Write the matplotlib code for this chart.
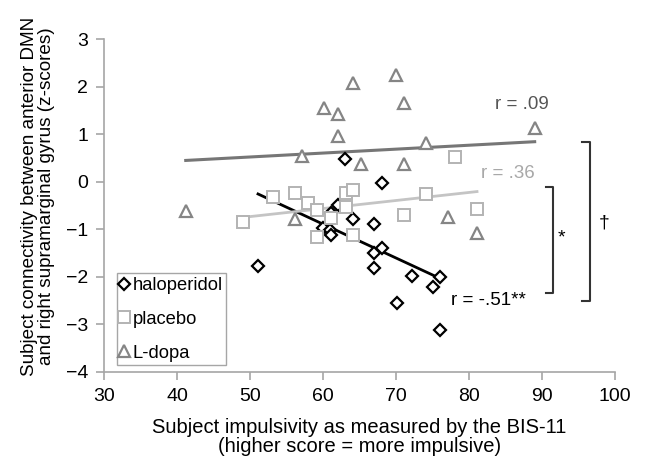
import numpy as np
import matplotlib
matplotlib.use("Agg")
import matplotlib.pyplot as plt

plt.rcParams["font.family"] = ["Liberation Sans", "DejaVu Sans"]
plt.rcParams["font.size"] = 14

# BIS-11 score (x) vs connectivity z-score (y)
halo_x = [51.1, 61.1, 60.0, 61.0, 61.1, 64.1, 67.0, 67.0, 68.1, 67.0, 70.1, 68.1, 62.1, 63.0, 72.2, 76.0, 75.1, 76.0]
halo_y = [-1.78, -0.66, -0.96, -1.02, -1.12, -0.79, -0.89, -1.50, -1.39, -1.82, -2.54, -0.03, -0.49, 0.48, -1.99, -2.01, -2.22, -3.11]
plac_x = [49.0, 53.2, 56.2, 57.9, 59.2, 59.2, 61.1, 63.2, 64.1, 63.2, 64.1, 78.1, 74.1, 71.1, 81.1]
plac_y = [-0.85, -0.32, -0.24, -0.45, -0.60, -1.17, -0.77, -0.24, -0.18, -0.53, -1.12, 0.52, -0.26, -0.70, -0.58]
ldopa_x = [41.2, 64.1, 70.0, 60.1, 62.1, 62.1, 57.1, 65.2, 71.1, 89.0, 74.1, 71.1, 77.1, 81.1, 56.2]
ldopa_y = [-0.62, 2.08, 2.25, 1.55, 1.43, 0.96, 0.54, 0.37, 1.66, 1.13, 0.82, 0.37, -0.74, -1.08, -0.79]

C_H = "#000000"; C_P = "#b3b3b3"; C_PL = "#c4c4c4"; C_L = "#858585"; C_LL = "#767676"

fig = plt.figure(figsize=(6.47, 4.58), dpi=100)
ax = fig.add_axes([0.1607, 0.1878, 0.7898, 0.7264])


def trend(x, y, color, lw):
    k, b = np.polyfit(x, y, 1)
    xs = np.array([min(x), max(x)])
    ax.plot(xs, k * xs + b, color=color, lw=lw, zorder=2)


ax.plot(halo_x, halo_y, "D", ms=6.0, mfc="white", mec=C_H, mew=1.6, ls="none",
        label="haloperidol", zorder=3)
ax.plot(plac_x, plac_y, "s", ms=8.0, mfc="white", mec=C_P, mew=1.4, ls="none",
        label="placebo", zorder=3)
ax.plot(ldopa_x, ldopa_y, "^", ms=9.0, mfc="white", mec=C_L, mew=1.6, ls="none",
        label="L-dopa", zorder=3)
trend(halo_x, halo_y, C_H, 2.0)
trend(plac_x, plac_y, C_PL, 2.0)
trend(ldopa_x, ldopa_y, C_LL, 2.2)

ax.set_xlim(30, 100)
ax.set_ylim(-4, 3)
ax.set_xticks(range(30, 101, 10))
ax.set_yticks(range(-4, 4))
for s in ("top", "right"):
    ax.spines[s].set_visible(False)
for s in ("left", "bottom"):
    ax.spines[s].set_color("#a6a6a6")
    ax.spines[s].set_linewidth(1.2)
ax.tick_params(direction="out", length=6, width=1.2, color="#a6a6a6", labelsize=14, pad=5.5)

ax.set_xlabel("Subject impulsivity as measured by the BIS-11\n(higher score = more impulsive)",
              fontsize=14.5, linespacing=1.0)
ax.xaxis.set_label_coords(0.5, -0.137)
ax.set_ylabel("Subject connectivity between anterior DMN\nand right supramarginal gyrus (z-scores)",
              fontsize=13.6, linespacing=1.0)
ax.yaxis.set_label_coords(-0.095, 0.527)

# correlation labels
ax.text(87.3, 1.62, "r = .09", color="#555555", ha="center", va="center", fontsize=13.5)
ax.text(85.3, 0.18, "r = .36", color="#a8a8a8", ha="center", va="center", fontsize=13.5)
ax.text(82.7, -2.5, "r = -.51**", color="#000000", ha="center", va="center", fontsize=13.5)

# significance brackets
ax.plot([90.5, 91.5, 91.5, 90.5], [-0.11, -0.11, -2.33, -2.33], color="#333333", lw=1.5)
ax.text(92.7, -1.17, "*", ha="center", va="center", fontsize=14)
ax.plot([95.5, 96.6, 96.6, 95.5], [0.84, 0.84, -2.5, -2.5], color="#333333", lw=1.5)
ax.text(98.5, -0.87, "\u2020", ha="center", va="center", fontsize=14, clip_on=False)

leg = ax.legend(loc="lower left", bbox_to_anchor=(0.025, 0.02), borderaxespad=0,
                fontsize=13.2, handlelength=0.4, handletextpad=0.25, labelspacing=0.92,
                borderpad=0.2, fancybox=False, framealpha=1)
leg.get_frame().set_edgecolor("#a6a6a6")
leg.get_frame().set_linewidth(1.0)

fig.savefig("out.png", dpi=100)
